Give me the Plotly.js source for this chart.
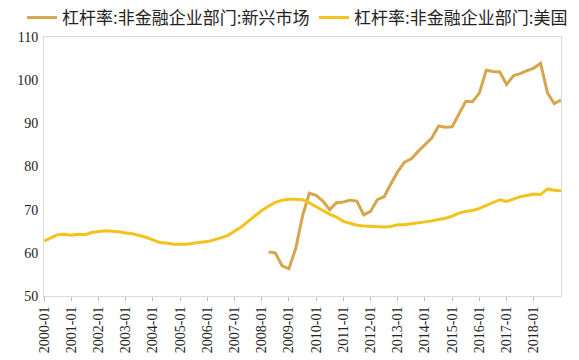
<!DOCTYPE html>
<html>
<head>
<meta charset="utf-8">
<script src="https://cdn.plot.ly/plotly-3.0.1.min.js"></script>
<style>html,body{margin:0;padding:0;background:#fff;}#chart{width:579px;height:360px;}</style>
</head>
<body>
<div id="chart"></div>
<script>
const quarters = [
"2000-01","2000-04","2000-07","2000-10","2001-01","2001-04","2001-07","2001-10",
"2002-01","2002-04","2002-07","2002-10","2003-01","2003-04","2003-07","2003-10",
"2004-01","2004-04","2004-07","2004-10","2005-01","2005-04","2005-07","2005-10",
"2006-01","2006-04","2006-07","2006-10","2007-01","2007-04","2007-07","2007-10",
"2008-01","2008-04","2008-07","2008-10","2009-01","2009-04","2009-07","2009-10",
"2010-01","2010-04","2010-07","2010-10","2011-01","2011-04","2011-07","2011-10",
"2012-01","2012-04","2012-07","2012-10","2013-01","2013-04","2013-07","2013-10",
"2014-01","2014-04","2014-07","2014-10","2015-01","2015-04","2015-07","2015-10",
"2016-01","2016-04","2016-07","2016-10","2017-01","2017-04","2017-07","2017-10",
"2018-01","2018-04","2018-07","2018-10","2019-01"];

const tickLabels = ["2000-01","2001-01","2002-01","2003-01","2004-01","2005-01","2006-01",
"2007-01","2008-01","2009-01","2010-01","2011-01","2012-01","2013-01","2014-01","2015-01",
"2016-01","2017-01","2018-01"];

const emName = "杠杆率:非金融企业部门:新兴市场";
const usName = "杠杆率:非金融企业部门:美国";

const emValues = [
null,null,null,null,null,null,null,null,
null,null,null,null,null,null,null,null,
null,null,null,null,null,null,null,null,
null,null,null,null,null,null,null,null,
null,60.2,60.0,57.0,56.3,61.0,68.5,73.8,
73.3,72.0,70.0,71.6,71.8,72.2,72.0,68.8,
69.6,72.3,73.0,76.0,78.8,81.0,81.8,83.5,
85.0,86.6,89.4,89.1,89.2,92.0,95.1,95.0,
97.0,102.3,102.0,101.9,99.0,101.0,101.5,102.2,
102.8,103.9,97.1,94.6,95.4];

const usValues = [
62.7,63.5,64.2,64.3,64.1,64.3,64.2,64.7,
64.9,65.1,65.0,64.9,64.6,64.4,64.0,63.6,
63.0,62.4,62.3,62.0,62.0,62.0,62.2,62.4,
62.6,63.0,63.5,64.0,65.0,66.0,67.3,68.6,
69.8,70.8,71.7,72.2,72.4,72.4,72.3,71.6,
70.6,69.8,68.9,68.3,67.3,66.8,66.4,66.2,
66.1,66.0,66.0,66.1,66.5,66.5,66.7,67.0,
67.2,67.4,67.7,68.0,68.5,69.2,69.6,69.8,
70.3,71.0,71.6,72.3,71.9,72.5,73.0,73.3,
73.6,73.5,74.8,74.5,74.4];

const traces = [
  {x: quarters, y: emValues, name: emName, type: 'scatter', mode: 'lines',
   line: {color: '#D5A64E', width: 3}, connectgaps: false, legend: 'legend'},
  {x: quarters, y: usValues, name: usName, type: 'scatter', mode: 'lines',
   line: {color: '#F3C21B', width: 3}, legend: 'legend2'}
];

const legendFont = {family: 'Noto Sans CJK SC', size: 17, color: '#222'};

const layout = {
  width: 579, height: 360,
  margin: {l: 44, r: 18, t: 37, b: 64, autoexpand: false},
  paper_bgcolor: '#fff', plot_bgcolor: '#fff',
  showlegend: true,
  legend: {orientation: 'h', xref: 'container', yref: 'container',
           x: 22 / 579, xanchor: 'left', y: 1, yanchor: 'top',
           font: legendFont, itemwidth: 30, bgcolor: 'rgba(0,0,0,0)'},
  legend2: {orientation: 'h', xref: 'container', yref: 'container',
           x: 314 / 579, xanchor: 'left', y: 1, yanchor: 'top',
           font: legendFont, itemwidth: 30, bgcolor: 'rgba(0,0,0,0)'},
  xaxis: {type: 'category', range: [0, 76], tickmode: 'array', tickvals: tickLabels,
          ticktext: tickLabels, tickangle: -90, showgrid: false, zeroline: false,
          showline: true, linecolor: '#d9d9d9', linewidth: 1, mirror: true,
          ticks: 'outside', ticklen: 4, tickcolor: '#bfbfbf',
          tickfont: {family: 'Liberation Serif', size: 14, color: '#222'}},
  yaxis: {range: [50, 110], dtick: 10, tick0: 50, showgrid: false, zeroline: false,
          showline: true, linecolor: '#d9d9d9', linewidth: 1, mirror: true,
          ticks: '', ticklabelstandoff: 2,
          tickfont: {family: 'Liberation Serif', size: 14, color: '#222'}}
};

Plotly.newPlot('chart', traces, layout, {displayModeBar: false, staticPlot: true});
</script>
</body>
</html>
